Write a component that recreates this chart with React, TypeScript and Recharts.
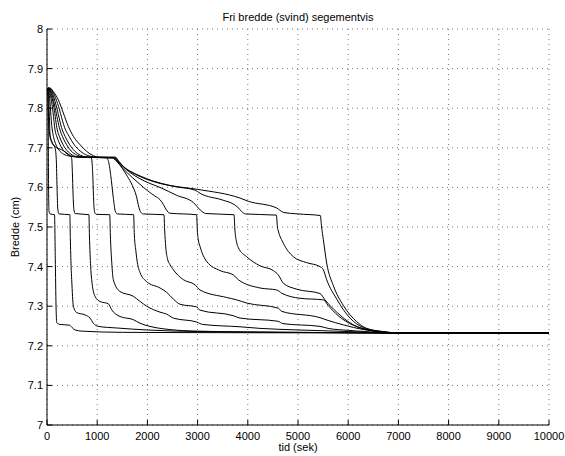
import { LineChart, Line, XAxis, YAxis, CartesianGrid } from "recharts";

// Fri bredde (svind) per segment.
// Each segment: [tid (sek), bredde (cm)]
const xTicks = [0, 1000, 2000, 3000, 4000, 5000, 6000, 7000, 8000, 9000, 10000];
const yTicks = [7, 7.1, 7.2, 7.3, 7.4, 7.5, 7.6, 7.7, 7.8, 7.9, 8];

const seg1: [number, number][] = [
  [0, 7.838], [12, 7.849], [22, 7.8], [30, 7.62], [40, 7.54], [60, 7.533], [150, 7.531],
  [165, 7.42], [180, 7.3], [195, 7.258], [260, 7.254], [450, 7.252], [500, 7.246],
  [560, 7.24], [700, 7.237], [1500, 7.234], [4000, 7.233], [10000, 7.232],
];
const seg2: [number, number][] = [
  [0, 7.838], [10, 7.849], [22, 7.81], [35, 7.755], [60, 7.728], [100, 7.712], [160, 7.7],
  [185, 7.67], [200, 7.6], [215, 7.545], [240, 7.533], [455, 7.531], [465, 7.47], [480, 7.4],
  [492, 7.367], [525, 7.3], [591, 7.284], [757, 7.278], [857, 7.27], [923, 7.257],
  [1022, 7.249], [1388, 7.245], [1986, 7.24], [3000, 7.236], [5000, 7.234], [7000, 7.232],
  [10000, 7.232],
];
const seg3: [number, number][] = [
  [0, 7.838], [15, 7.85], [30, 7.835], [50, 7.77], [60, 7.735], [100, 7.715], [160, 7.703],
  [292, 7.695], [425, 7.684], [490, 7.675], [505, 7.64], [520, 7.58], [535, 7.545],
  [560, 7.534], [835, 7.531], [845, 7.48], [870, 7.4], [890, 7.367], [956, 7.325],
  [1056, 7.312], [1222, 7.306], [1288, 7.291], [1454, 7.274], [1720, 7.266], [1853, 7.257],
  [2052, 7.249], [2450, 7.241], [3000, 7.237], [4000, 7.235], [6000, 7.233], [7000, 7.232],
  [10000, 7.232],
];
const seg4: [number, number][] = [
  [0, 7.838], [18, 7.851], [35, 7.845], [60, 7.815], [85, 7.77], [106, 7.745], [135, 7.725],
  [180, 7.707], [240, 7.694], [330, 7.684], [450, 7.679], [600, 7.677], [880, 7.675],
  [900, 7.66], [915, 7.62], [930, 7.565], [950, 7.537], [980, 7.532], [1250, 7.531],
  [1262, 7.48], [1290, 7.41], [1321, 7.367], [1454, 7.337], [1720, 7.325], [1853, 7.312],
  [1986, 7.3], [2251, 7.285], [2384, 7.28], [2517, 7.27], [2982, 7.26], [3100, 7.254],
  [3845, 7.248], [4243, 7.244], [5000, 7.24], [6000, 7.236], [7000, 7.232], [10000, 7.232],
];
const seg5: [number, number][] = [
  [0, 7.838], [22, 7.851], [45, 7.846], [80, 7.825], [120, 7.79], [160, 7.745], [200, 7.727],
  [260, 7.708], [330, 7.693], [420, 7.683], [520, 7.678], [700, 7.676], [1180, 7.675],
  [1220, 7.668], [1270, 7.63], [1320, 7.575], [1360, 7.54], [1400, 7.533], [1725, 7.531],
  [1740, 7.48], [1770, 7.44], [1800, 7.41], [1853, 7.385], [1986, 7.362], [2251, 7.346],
  [2384, 7.335], [2517, 7.318], [2649, 7.305], [2982, 7.298], [3048, 7.29], [3711, 7.276],
  [3845, 7.27], [4600, 7.262], [4700, 7.256], [5438, 7.249], [5600, 7.244], [6000, 7.239],
  [6600, 7.234], [7000, 7.232], [10000, 7.232],
];
const seg6: [number, number][] = [
  [0, 7.838], [25, 7.851], [50, 7.848], [90, 7.832], [140, 7.8], [205, 7.745], [250, 7.728],
  [320, 7.708], [400, 7.693], [500, 7.682], [620, 7.677], [800, 7.676], [1300, 7.674],
  [1400, 7.664], [1500, 7.648], [1600, 7.628], [1700, 7.605], [1780, 7.578], [1830, 7.55],
  [1870, 7.537], [1920, 7.533], [2330, 7.531], [2345, 7.49], [2365, 7.45], [2400, 7.42],
  [2450, 7.405], [2517, 7.392], [2716, 7.367], [2948, 7.354], [3048, 7.341], [3580, 7.322],
  [3779, 7.316], [3978, 7.308], [4608, 7.295], [4675, 7.287], [5438, 7.271], [5600, 7.264],
  [5900, 7.253], [6300, 7.241], [6700, 7.235], [7000, 7.232], [10000, 7.232],
];
const seg7: [number, number][] = [
  [0, 7.838], [28, 7.851], [55, 7.849], [100, 7.835], [160, 7.802], [259, 7.745],
  [310, 7.728], [390, 7.708], [480, 7.692], [590, 7.682], [720, 7.677], [900, 7.676],
  [1300, 7.675], [1400, 7.666], [1500, 7.65], [1700, 7.625], [1850, 7.608], [2000, 7.592],
  [2150, 7.578], [2251, 7.569], [2317, 7.557], [2380, 7.543], [2440, 7.535], [2980, 7.531],
  [2995, 7.49], [3014, 7.468], [3048, 7.451], [3181, 7.413], [3446, 7.39], [3711, 7.379],
  [3811, 7.367], [4243, 7.346], [4575, 7.341], [4675, 7.333], [5040, 7.32], [5505, 7.316],
  [5600, 7.302], [5800, 7.276], [6100, 7.252], [6400, 7.24], [6750, 7.234], [7050, 7.232],
  [10000, 7.232],
];
const seg8: [number, number][] = [
  [0, 7.838], [30, 7.851], [60, 7.849], [110, 7.838], [180, 7.808], [305, 7.745],
  [360, 7.729], [450, 7.708], [550, 7.692], [670, 7.681], [800, 7.677], [1000, 7.676],
  [1330, 7.675], [1420, 7.665], [1520, 7.652], [1650, 7.638], [1850, 7.622], [2050, 7.61],
  [2251, 7.6], [2583, 7.58], [2915, 7.562], [3014, 7.548], [3100, 7.538], [3160, 7.534],
  [3725, 7.531], [3745, 7.49], [3780, 7.46], [3811, 7.448], [3978, 7.425], [4243, 7.402],
  [4508, 7.39], [4608, 7.379], [4708, 7.358], [4974, 7.343], [5438, 7.332], [5538, 7.316],
  [5771, 7.285], [6102, 7.253], [6434, 7.239], [6800, 7.233], [7100, 7.232], [10000, 7.232],
];
const seg9: [number, number][] = [
  [0, 7.838], [30, 7.851], [65, 7.85], [125, 7.84], [210, 7.812], [370, 7.745], [440, 7.729],
  [540, 7.708], [660, 7.692], [800, 7.681], [960, 7.677], [1350, 7.676], [1430, 7.666],
  [1530, 7.652], [1660, 7.64], [1860, 7.627], [2250, 7.61], [2600, 7.601], [2950, 7.593],
  [3050, 7.585], [3500, 7.568], [3711, 7.558], [3800, 7.55], [3878, 7.539], [3950, 7.533],
  [4570, 7.53], [4590, 7.5], [4608, 7.49], [4708, 7.459], [4907, 7.425], [5173, 7.41],
  [5438, 7.4], [5505, 7.392], [5571, 7.367], [5771, 7.318], [6036, 7.27], [6301, 7.246],
  [6650, 7.236], [7100, 7.232], [10000, 7.232],
];
const seg10: [number, number][] = [
  [0, 7.838], [30, 7.851], [60, 7.851], [126, 7.842], [226, 7.821], [325, 7.788],
  [425, 7.754], [525, 7.729], [657, 7.708], [790, 7.691], [923, 7.68], [1056, 7.676],
  [1370, 7.676], [1421, 7.666], [1521, 7.652], [1653, 7.641], [1853, 7.629], [2118, 7.616],
  [2450, 7.605], [3000, 7.595], [3845, 7.573], [4010, 7.565], [4575, 7.548], [4708, 7.537],
  [5000, 7.533], [5445, 7.529], [5470, 7.5], [5505, 7.468], [5571, 7.409], [5704, 7.352],
  [5903, 7.302], [6169, 7.261], [6368, 7.244], [6700, 7.236], [7100, 7.232], [10000, 7.232],
];

const segments = [seg1, seg2, seg3, seg4, seg5, seg6, seg7, seg8, seg9, seg10];

const FONT = "'Liberation Sans', Arial, Helvetica, sans-serif";
const AXIS_TICK = { fill: "#000", fontSize: 11, fontFamily: FONT };
const NO_LABEL = () => "";

export default function App() {
  return (
    <div
      style={{
        position: "absolute",
        left: 0,
        top: 0,
        width: 565,
        height: 456,
        background: "#fff",
        fontFamily: FONT,
        color: "#000",
      }}
    >
      <LineChart width={565} height={456} margin={{ top: 29, right: 16, bottom: 0, left: 10 }}>
        <CartesianGrid stroke="#777" strokeDasharray="1 4" />
        <XAxis
          dataKey="t"
          type="number"
          domain={[0, 10000]}
          ticks={xTicks}
          height={31}
          tickSize={-5}
          tickMargin={12}
          tick={AXIS_TICK}
          stroke="#000"
          allowDataOverflow
        />
        <XAxis
          xAxisId="top"
          orientation="top"
          type="number"
          domain={[0, 10000]}
          ticks={xTicks}
          height={0}
          tickSize={-5}
          tickFormatter={NO_LABEL}
          stroke="#000"
        />
        <YAxis
          type="number"
          domain={[7, 8]}
          ticks={yTicks}
          width={37}
          tickSize={-5}
          tickMargin={9}
          tick={AXIS_TICK}
          stroke="#000"
          allowDataOverflow
        />
        <YAxis
          yAxisId="right"
          orientation="right"
          type="number"
          domain={[7, 8]}
          ticks={yTicks}
          width={0}
          tickSize={-5}
          tickFormatter={NO_LABEL}
          stroke="#000"
        />
        {segments.map((seg, i) => (
          <Line
            key={i}
            data={seg.map(([t, v]) => ({ t, v }))}
            dataKey="v"
            type="monotone"
            stroke="#000"
            strokeWidth={1}
            dot={false}
            activeDot={false}
            isAnimationActive={false}
          />
        ))}
      </LineChart>
      <div
        style={{
          position: "absolute",
          left: 148,
          width: 300,
          top: 10,
          textAlign: "center",
          fontSize: 11,
          lineHeight: "14px",
        }}
      >
        Fri bredde (svind) segementvis
      </div>
      <div
        style={{
          position: "absolute",
          left: 198,
          width: 200,
          top: 440,
          textAlign: "center",
          fontSize: 11,
          lineHeight: "14px",
        }}
      >
        tid (sek)
      </div>
      <div
        style={{
          position: "absolute",
          left: 15 - 50,
          top: 227 - 7,
          width: 100,
          textAlign: "center",
          fontSize: 11,
          lineHeight: "14px",
          transform: "rotate(-90deg)",
        }}
      >
        Bredde (cm)
      </div>
    </div>
  );
}
